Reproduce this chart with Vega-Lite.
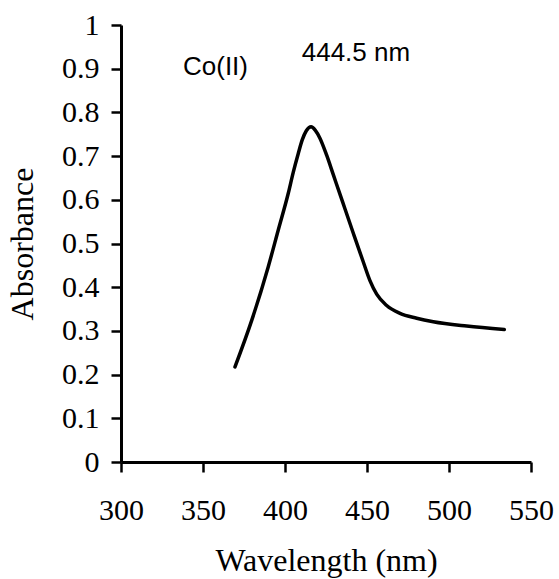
{
  "$schema": "https://vega.github.io/schema/vega-lite/v6.json",
  "autosize": {"type": "none"},
  "padding": {"left": 121, "top": 25, "right": 28, "bottom": 117},
  "width": 410,
  "height": 437,
  "background": "white",
  "config": {"view": {"stroke": null}},
  "layer": [
    {
      "data": {"values": [
        {"wavelength": 369.5, "absorbance": 0.2175},
        {"wavelength": 379.7, "absorbance": 0.324},
        {"wavelength": 389.8, "absorbance": 0.447},
        {"wavelength": 395.9, "absorbance": 0.531},
        {"wavelength": 402.0, "absorbance": 0.615},
        {"wavelength": 405.1, "absorbance": 0.664},
        {"wavelength": 408.1, "absorbance": 0.706},
        {"wavelength": 410.5, "absorbance": 0.737},
        {"wavelength": 413.0, "absorbance": 0.758},
        {"wavelength": 415.9, "absorbance": 0.767},
        {"wavelength": 418.5, "absorbance": 0.759},
        {"wavelength": 421.3, "absorbance": 0.741},
        {"wavelength": 425.4, "absorbance": 0.702},
        {"wavelength": 429.5, "absorbance": 0.657},
        {"wavelength": 433.5, "absorbance": 0.613},
        {"wavelength": 436.6, "absorbance": 0.579},
        {"wavelength": 441.7, "absorbance": 0.523},
        {"wavelength": 447.8, "absorbance": 0.457},
        {"wavelength": 451.8, "absorbance": 0.415},
        {"wavelength": 455.9, "absorbance": 0.384},
        {"wavelength": 462.0, "absorbance": 0.358},
        {"wavelength": 470.1, "absorbance": 0.340},
        {"wavelength": 480.3, "absorbance": 0.329},
        {"wavelength": 490.4, "absorbance": 0.321},
        {"wavelength": 510.8, "absorbance": 0.311},
        {"wavelength": 533.7, "absorbance": 0.303}
      ]},
      "mark": {"type": "line", "color": "black", "strokeWidth": 3.5, "interpolate": "monotone", "strokeCap": "round"},
      "encoding": {
        "x": {
          "field": "wavelength", "type": "quantitative",
          "scale": {"domain": [300, 550], "nice": false, "zero": false},
          "axis": {
            "values": [300, 350, 400, 450, 500, 550],
            "title": "Wavelength (nm)",
            "grid": false,
            "domainColor": "black", "domainWidth": 3,
            "tickColor": "black", "tickWidth": 2.5, "tickSize": 10,
            "labelFont": "Liberation Serif", "labelFontSize": 30, "labelColor": "black",
            "labelPadding": 23, "labelFlush": false,
            "titleFont": "Liberation Serif", "titleFontSize": 32, "titleFontWeight": "normal", "titleColor": "black",
            "titlePadding": 20
          }
        },
        "y": {
          "field": "absorbance", "type": "quantitative",
          "scale": {"domain": [0, 1], "nice": false},
          "axis": {
            "values": [0, 0.1, 0.2, 0.3, 0.4, 0.5, 0.6, 0.7, 0.8, 0.9, 1],
            "format": "~g",
            "title": "Absorbance",
            "grid": false,
            "domainColor": "black", "domainWidth": 3,
            "tickColor": "black", "tickWidth": 2.5, "tickSize": 10,
            "labelFont": "Liberation Serif", "labelFontSize": 30, "labelColor": "black",
            "labelPadding": 12, "labelFlush": false,
            "titleFont": "Liberation Serif", "titleFontSize": 32, "titleFontWeight": "normal", "titleColor": "black",
            "titlePadding": 22
          }
        }
      }
    },
    {
      "data": {"values": [
        {"wavelength": 337.8, "absorbance": 0.8855, "label": "Co(II)"},
        {"wavelength": 410.2, "absorbance": 0.918, "label": "444.5 nm"}
      ]},
      "mark": {"type": "text", "align": "left", "baseline": "alphabetic", "font": "Liberation Sans", "fontSize": 26, "color": "black"},
      "encoding": {
        "x": {"field": "wavelength", "type": "quantitative"},
        "y": {"field": "absorbance", "type": "quantitative"},
        "text": {"field": "label"}
      }
    }
  ]
}
